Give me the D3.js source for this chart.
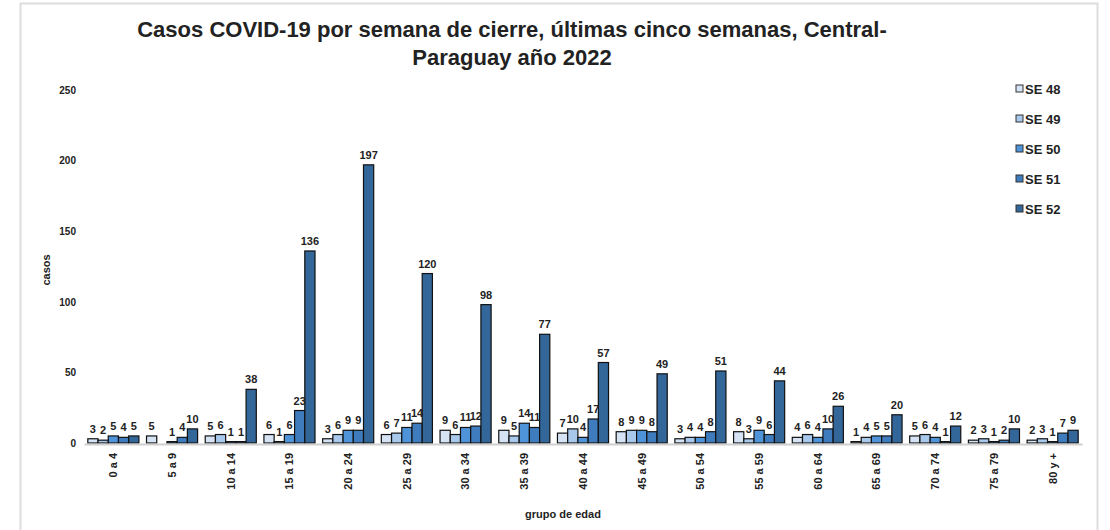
<!DOCTYPE html>
<html>
<head>
<meta charset="utf-8">
<script src="https://cdn.jsdelivr.net/npm/d3@7"></script>
<style>
  body { margin: 0; background: #fff; }
  text { font-family: 'Liberation Sans', Arial, sans-serif; fill: #222; }
</style>
</head>
<body>
<div id="chart"></div>
<script>
const width = 1110
const height = 530

const ageGroups = ['0 a 4', '5 a 9', '10 a 14', '15 a 19', '20 a 24', '25 a 29', '30 a 34', '35 a 39',
  '40 a 44', '45 a 49', '50 a 54', '55 a 59', '60 a 64', '65 a 69', '70 a 74', '75 a 79', '80 y +']
const weeks = ['SE 48', 'SE 49', 'SE 50', 'SE 51', 'SE 52']
const se48 = [3, 5, 5, 6, 3, 6, 9, 9, 7, 8, 3, 8, 4, 1, 5, 2, 2]
const se49 = [2, null, 6, 1, 6, 7, 6, 5, 10, 9, 4, 3, 6, 4, 6, 3, 3]
const se50 = [5, 1, 1, 6, 9, 11, 11, 14, 4, 9, 4, 9, 4, 5, 4, 1, 1]
const se51 = [4, 4, 1, 23, 9, 14, 12, 11, 17, 8, 8, 6, 10, 5, 1, 2, 7]
const se52 = [5, 10, 38, 136, 197, 120, 98, 77, 57, 49, 51, 44, 26, 20, 12, 10, 9]
const yTicks = [0, 50, 100, 150, 200, 250]

const series = [se48, se49, se50, se51, se52]
const colors = ['#d5e3f4', '#a9c9ec', '#4f93d8', '#3f7cbd', '#336699']

const svg = d3.select('#chart').append('svg')
  .attr('width', width)
  .attr('height', height)

// frame
svg.append('rect')
  .attr('x', 20.5).attr('y', 3.5)
  .attr('width', 1077).attr('height', 540)
  .attr('fill', 'none')
  .attr('stroke', '#ddd')
  .attr('stroke-width', 2)

const x0 = d3.scaleBand().domain(ageGroups).range([84, 1082]).paddingInner(0.13).paddingOuter(0.065)
const x1 = d3.scaleBand().domain(weeks).range([0, x0.bandwidth()])
const y = d3.scaleLinear().domain([0, 250]).range([443, 90])

// title
const title = svg.append('text')
  .attr('text-anchor', 'middle')
  .style('font-size', '22px')
  .style('font-weight', 'bold')
title.append('tspan').attr('x', 512).attr('y', 37)
  .text('Casos COVID-19 por semana de cierre, últimas cinco semanas, Central-')
title.append('tspan').attr('x', 512).attr('y', 65)
  .text('Paraguay año 2022')

// y axis
const yAxis = svg.append('g')
  .attr('transform', 'translate(76,0)')
  .call(d3.axisLeft(y).tickValues(yTicks).tickSize(0).tickPadding(0))
yAxis.select('.domain').remove()
yAxis.selectAll('text').style('font-size', '10px').style('font-weight', 'bold')

svg.append('text')
  .attr('transform', 'translate(50,270) rotate(-90)')
  .attr('text-anchor', 'middle')
  .style('font-size', '11px')
  .style('font-weight', 'bold')
  .text('casos')

// bars
const groups = svg.append('g').selectAll('g')
  .data(ageGroups)
  .join('g')
  .attr('transform', d => 'translate(' + x0(d) + ',0)')

groups.selectAll('rect')
  .data((d, i) => weeks.map((w, j) => ({ w: w, v: series[j][i], c: colors[j] })).filter(d => d.v !== null))
  .join('rect')
  .attr('x', d => x1(d.w))
  .attr('y', d => y(d.v))
  .attr('width', x1.bandwidth())
  .attr('height', d => y(0) - y(d.v))
  .attr('fill', d => d.c)
  .attr('stroke', '#111')
  .attr('stroke-width', 1.2)

groups.selectAll('text')
  .data((d, i) => weeks.map((w, j) => ({ w: w, v: series[j][i] })).filter(d => d.v !== null))
  .join('text')
  .attr('x', d => x1(d.w) + x1.bandwidth() / 2)
  .attr('y', d => y(d.v) - 6)
  .attr('text-anchor', 'middle')
  .style('font-size', '11px')
  .style('font-weight', 'bold')
  .text(d => d.v)

// x axis
const xAxis = svg.append('g')
  .attr('transform', 'translate(0,' + (y(0) + 1) + ')')
  .call(d3.axisBottom(x0).tickSize(0).tickPadding(0))
xAxis.select('.domain').attr('stroke', '#d0d0d0').attr('stroke-width', 2)
xAxis.selectAll('text')
  .attr('transform', 'rotate(-90)')
  .attr('x', -9)
  .attr('y', 0)
  .attr('dy', '0.35em')
  .attr('text-anchor', 'end')
  .style('font-size', '11px')
  .style('font-weight', 'bold')

svg.append('text')
  .attr('x', 563).attr('y', 518)
  .attr('text-anchor', 'middle')
  .style('font-size', '11px')
  .style('font-weight', 'bold')
  .text('grupo de edad')

// legend
const legend = svg.append('g').selectAll('g')
  .data(weeks)
  .join('g')
  .attr('transform', (d, i) => 'translate(1016,' + (89 + i * 30) + ')')
legend.append('rect')
  .attr('x', 0).attr('y', -4)
  .attr('width', 7).attr('height', 7)
  .attr('fill', (d, i) => colors[i])
  .attr('stroke', '#333')
legend.append('text')
  .attr('x', 9).attr('y', 0)
  .attr('dy', '0.35em')
  .style('font-size', '13px')
  .style('font-weight', 'bold')
  .text(d => d)
</script>
</body>
</html>
